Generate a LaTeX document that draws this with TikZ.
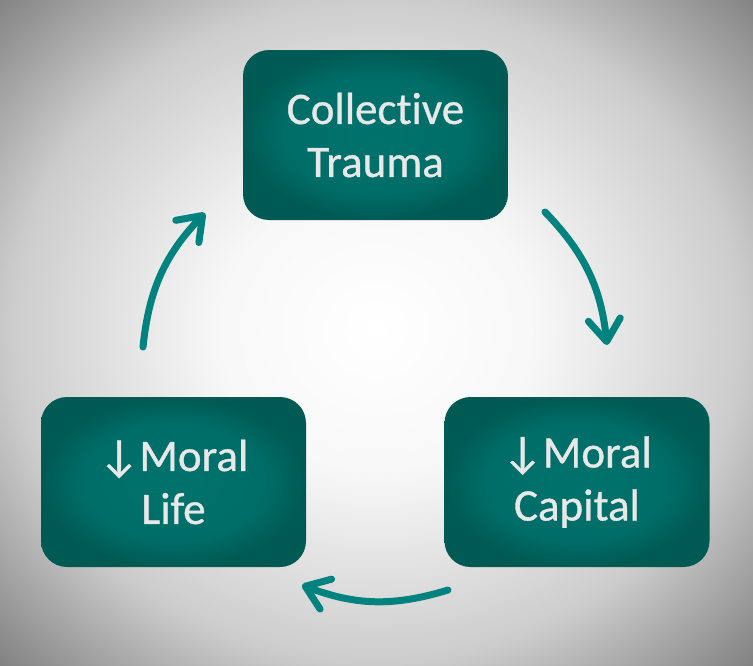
\documentclass[tikz,border=0pt]{standalone}
\usepackage{fontspec}
\setmainfont{Carlito}
\newfontfamily\boxfont[RawFeature={embolden=0.8},Ligatures=NoCommon]{Carlito}
\usetikzlibrary{arrows.meta}
\definecolor{boxteal}{RGB}{0,114,108}
\definecolor{boxedge}{RGB}{0,90,84}
\definecolor{arrowteal}{RGB}{0,131,126}
\definecolor{textgray}{RGB}{232,232,232}
\pgfdeclareradialshading{backshade}{\pgfpoint{0bp}{0bp}}{color(0bp)=(white); color(7bp)=(white!97!black); color(16bp)=(white!80!black); color(23bp)=(white!51!black); color(25bp)=(white!47!black); color(50bp)=(white!47!black)}
\pgfdeclareradialshading{boxshade}{\pgfpoint{0bp}{0bp}}{color(0bp)=(boxteal); color(17bp)=(boxteal!96!black); color(25bp)=(boxedge); color(50bp)=(boxedge)}
\begin{document}
\begin{tikzpicture}
[x=1pt,y=-1pt,
  boxdecorate/.style={shape=rectangle,rounded corners=26pt,minimum width=265pt,minimum height=170pt,%
    shade,shading=boxshade,text=textgray,align=center,font=\boxfont\fontsize{45}{53}\selectfont},%
  linedecorate/.style={-{Straight Barb[length=22pt,width=32pt,round]},line width=7pt,line cap=round,arrowteal,bend left=19}]
%% background
\begin{scope}
\clip (0,0) rectangle (753,665);
\shade[shading=backshade] (376,330) ellipse[x radius=572,y radius=520];
\end{scope}
\useasboundingbox (0,0) rectangle (753,665);
%% boxes
\foreach \nodename/\x/\y/\nodetext in {trauma/375.5/135/{Collective\\Trauma}, capital/577/482/{↓Moral\\Capital}, life/173.5/482/{↓Moral\\Life}} {
  \node (\nodename) at (\x,\y) [boxdecorate] {\nodetext};
}
%% arrow ends
\foreach \pointname/\x/\y in {trauma-out/545/212, capital-in/607/345, capital-out/448/590, life-in/302/585, life-out/143/347, trauma-in/205/213} {
  \coordinate (\pointname) at (\x,\y);
}
%% arrows
\path
\foreach \startnode/\endnode in {trauma-out/capital-in, capital-out/life-in, life-out/trauma-in} {
  (\startnode) edge[linedecorate] (\endnode)
};
\end{tikzpicture}
\end{document}
